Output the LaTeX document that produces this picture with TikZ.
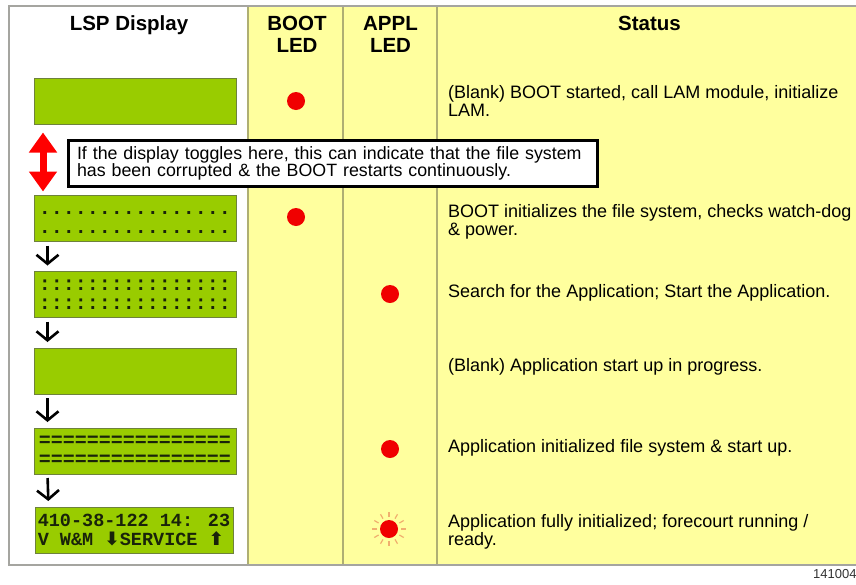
\documentclass[tikz,border=0pt]{standalone}
\usepackage{fontspec}
\setmainfont{Liberation Sans}
\newfontfamily\lcdfont{Liberation Mono}
\newfontfamily\symfont{DejaVu Sans}
\usetikzlibrary{arrows.meta,positioning}
\definecolor{lcdgreen}{RGB}{153,204,0}
\definecolor{lcdedge}{RGB}{110,130,60}
\definecolor{lcdink}{RGB}{25,35,10}
\definecolor{colyellow}{RGB}{255,255,158}
\definecolor{colline}{RGB}{175,175,115}
\definecolor{frameline}{RGB}{165,165,160}
\definecolor{ledred}{RGB}{240,0,0}
\definecolor{rayorange}{RGB}{240,175,110}
\tikzset{
  lcd/.style={rectangle, draw=lcdedge, line width=1pt, fill=lcdgreen,
    minimum width=202pt, minimum height=46pt, inner sep=0pt,
    font=\lcdfont\bfseries\fontsize{20}{19}\selectfont, text=lcdink, align=center},
  led/.style={circle, fill=ledred, minimum size=18pt, inner sep=0pt},
  head/.style={font=\bfseries\fontsize{20.5}{22.5}\selectfont, align=center,
    inner sep=0pt, anchor=base},
  status/.style={font=\fontsize{18}{18}\selectfont, align=left,
    inner sep=0pt, anchor=base west},
  stepdown/.style={line width=2.6pt, -{Straight Barb[length=9pt,width=22pt]},
    shorten <=3.5pt, shorten >=5.5pt},
  toggle/.style={red, line width=7pt,
    {Triangle[width=27pt,length=20pt]}-{Triangle[width=27pt,length=20pt]},
    shorten <=8pt, shorten >=3.5pt},
  ray/.style={rayorange, line width=1.2pt}
}
\begin{document}
\begin{tikzpicture}[x=1pt,y=-1pt]
      \useasboundingbox (0,0) rectangle (856,584);
      % table
      \fill[colyellow] (248,6) rectangle (856,565);
      \draw[colline, line width=1.5pt]
        (248,6) -- (248,565)
        (343,6) -- (343,565)
        (437,6) -- (437,565);
      \draw[frameline, line width=2pt] (856,6) -- (9,6) -- (9,565) -- (856,565);
      % headings (base = last line)
      \node[head] (hlsp) at (129,30) {LSP Display};
      \node[head] (hboot) at (297,52.5) {BOOT\\LED};
      \node[head] (happl) at (390.5,52.5) {APPL\\LED};
      \node[head] (hstatus) at (649.5,30) {Status};
      % displays
      \node[lcd] (d1) at (135,101) {};
      \node[lcd] (d2) at (135,218.5) {\rule{0pt}{10pt}................\\................};
      \node[lcd] (d3) at (135,294.5) {::::::::::::::::\\::::::::::::::::};
      \node[lcd] (d4) at (135,371) {};
      \node[lcd] (d5) at (135,451) {================\\================};
      \node[lcd, minimum width=198pt, align=left,
        font=\lcdfont\bfseries\fontsize{18.5}{19}\selectfont] (d6) at (134,530)
        {410-38-122 14: 23\\V W\&M {\symfont ⬇}SERVICE {\symfont ⬆}};
      \draw[toggle] ([xshift=9.5pt]d1.south west) to ([xshift=9.5pt]d2.north west);
      \begin{scope}[stepdown]
        \draw ([xshift=14pt]d2.south west) to ([xshift=14pt]d3.north west);
        \draw ([xshift=14pt]d3.south west) to ([xshift=14pt]d4.north west);
        \draw ([xshift=14pt]d4.south west) to ([xshift=14pt]d5.north west);
        \draw ([xshift=14pt]d5.south west) to ([xshift=14pt]d6.north west);
      \end{scope}
      % leds
      \node[led] (bootA) at (296,101) {};
      \node[led] (bootB) at (296,217) {};
      \node[led] (applA) at (390,294) {};
      \node[led] (applB) at (390,449) {};
      \node[led] (applC) at (389,529) {};
      \begin{scope}[ray]
        \draw (applC.center) ++(0:12) -- ++(0:5);
        \draw (applC.center) ++(30:12) -- ++(30:5);
        \draw (applC.center) ++(60:12) -- ++(60:5);
        \draw (applC.center) ++(90:12) -- ++(90:5);
        \draw (applC.center) ++(120:12) -- ++(120:5);
        \draw (applC.center) ++(150:12) -- ++(150:5);
        \draw (applC.center) ++(180:12) -- ++(180:5);
        \draw (applC.center) ++(210:12) -- ++(210:5);
        \draw (applC.center) ++(240:12) -- ++(240:5);
        \draw (applC.center) ++(270:12) -- ++(270:5);
        \draw (applC.center) ++(300:12) -- ++(300:5);
        \draw (applC.center) ++(330:12) -- ++(330:5);
      \end{scope}
      % status texts (base = last line)
      \node[status] (s1) at (448,116) {(Blank) BOOT started, call LAM module, initialize\\LAM.};
      \node[status] (s2) at (448,235) {BOOT initializes the file system, checks watch-dog\\\& power.};
      \node[status] (s3) at (448,297) {Search for the Application; Start the Application.};
      \node[status] (s4) at (448,371) {(Blank) Application start up in progress.};
      \node[status] (s5) at (448,452) {Application initialized file system \& start up.};
      \node[status] (s6) at (448,545) {Application fully initialized; forecourt running /\\ready.};
      % note
      \node[draw, line width=3pt, fill=white, minimum width=529pt, minimum height=46pt,
        text width=512pt, inner xsep=8.5pt, align=left,
        font=\fontsize{17.8}{17.5}\selectfont] (note) at (333,163.5)
        {If the display toggles here, this can indicate that the file system\\has been corrupted \& the BOOT restarts continuously.};
      \node[font=\fontsize{13}{13}\selectfont, text=black!80, anchor=base west,
        inner sep=0pt] (figno) at (813,578) {141004};
    \end{tikzpicture}
\end{document}
